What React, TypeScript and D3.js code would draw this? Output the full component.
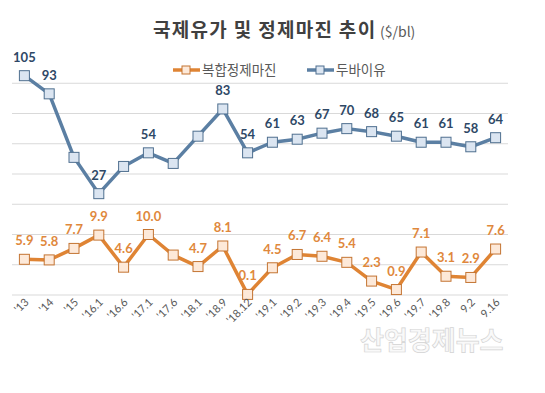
import React from "react";
import * as d3 from "d3";

const categories = ["'13", "'14", "'15", "'16.1", "'16.6", "'17.1", "'17.6", "'18.1", "'18.9", "'18.12", "'19.1", "'19.2", "'19.3", "'19.4", "'19.5", "'19.6", "'19.7", "'19.8", "9.2", "9.16"];
const dubaiValues = [105, 93, 51, 27, 45, 54, 47, 65, 83, 54, 61, 63, 67, 70, 68, 65, 61, 61, 58, 64];
const dubaiLabels = ["105", "93", "", "27", "", "54", "", "", "83", "54", "61", "63", "67", "70", "68", "65", "61", "61", "58", "64"];
const marginValues = [5.9, 5.8, 7.7, 9.9, 4.6, 10.0, 6.6, 4.7, 8.1, 0.1, 4.5, 6.7, 6.4, 5.4, 2.3, 0.9, 7.1, 3.1, 2.9, 7.6];
const marginLabels = ["5.9", "5.8", "7.7", "9.9", "4.6", "10.0", "", "4.7", "8.1", "0.1", "4.5", "6.7", "6.4", "5.4", "2.3", "0.9", "7.1", "3.1", "2.9", "7.6"];
const gridTicks = [-40, -20, 0, 20, 40, 60, 80, 100];

const W = 545, H = 393;
const FONT = "Lato, 'Noto Sans CJK KR', sans-serif";
const KFONT = "'Noto Sans CJK KR', 'Noto Sans', sans-serif";

export default function App() {
  const x = d3.scaleBand<string>().domain(categories).range([12, 508]);
  const cx = (c: string) => (x(c) as number) + x.bandwidth() / 2;
  const yDubai = d3.scaleLinear().domain([-40, 120]).range([295, 53]);
  const yMargin = d3.scaleLinear().domain([0, 40]).range([295, 53]);

  const lineDubai = d3.line<number>().x((_, i) => cx(categories[i])).y((d) => yDubai(d));
  const lineMargin = d3.line<number>().x((_, i) => cx(categories[i])).y((d) => yMargin(d));

  const blue = "#5b7fa3";
  const blueFill = "#dbe5f1";
  const blueStroke = "#4f6f8f";
  const blueText = "#2e4866";
  const orange = "#df8434";
  const orangeFill = "#fde9d9";
  const orangeStroke = "#c47432";
  const orangeText = "#e0883c";
  const ms = 10;

  return (
    <svg width={W} height={H} style={{ position: "absolute", left: 0, top: 0, background: "#fff" }}>
      {/* title */}
      <text x={153} y={37} fontFamily={KFONT} fontWeight={700} fontSize={19} letterSpacing={1.3} fill="#404040">
        국제유가 및 정제마진 추이
      </text>
      <text x={380} y={37} fontFamily={KFONT} fontSize={14} fill="#595959">($/bl)</text>

      {/* gridlines */}
      {gridTicks.map((t) => (
        <line key={t} x1={12} x2={508} y1={yDubai(t)} y2={yDubai(t)} stroke="#d9d9d9" strokeWidth={1} />
      ))}

      {/* legend */}
      <g>
        <line x1={173} x2={200} y1={70} y2={70} stroke={orange} strokeWidth={3.5} />
        <rect x={182} y={66} width={8} height={8} fill={orangeFill} stroke={orangeStroke} strokeWidth={1} />
        <text x={202} y={75} fontFamily={KFONT} fontSize={13.5} fill="#595959">복합정제마진</text>
        <line x1={307} x2={334} y1={70} y2={70} stroke={blue} strokeWidth={3.5} />
        <rect x={316} y={66} width={8} height={8} fill={blueFill} stroke={blueStroke} strokeWidth={1} />
        <text x={336} y={75} fontFamily={KFONT} fontSize={13.5} fill="#595959">두바이유</text>
      </g>

      {/* Dubai series */}
      <path d={lineDubai(dubaiValues) as string} fill="none" stroke={blue} strokeWidth={3.5} strokeLinejoin="round" />
      {dubaiValues.map((v, i) => (
        <rect key={"dm" + i} x={cx(categories[i]) - ms / 2} y={yDubai(v) - ms / 2} width={ms} height={ms} fill={blueFill} stroke={blueStroke} strokeWidth={1} />
      ))}
      {dubaiLabels.map((l, i) => l ? (
        <text key={"dl" + i} x={cx(categories[i])} y={yDubai(dubaiValues[i]) - 14} textAnchor="middle" fontFamily={FONT} fontWeight={700} fontSize={13} fill={blueText}>{l}</text>
      ) : null)}

      {/* Margin series */}
      <path d={lineMargin(marginValues) as string} fill="none" stroke={orange} strokeWidth={3.5} strokeLinejoin="round" />
      {marginValues.map((v, i) => (
        <rect key={"mm" + i} x={cx(categories[i]) - ms / 2} y={yMargin(v) - ms / 2} width={ms} height={ms} fill={orangeFill} stroke={orangeStroke} strokeWidth={1} />
      ))}
      {marginLabels.map((l, i) => l ? (
        <text key={"ml" + i} x={cx(categories[i])} y={yMargin(marginValues[i]) - 14} textAnchor="middle" fontFamily={FONT} fontWeight={700} fontSize={13} fill={orangeText}>{l}</text>
      ) : null)}

      {/* x labels */}
      {categories.map((c) => (
        <text key={"x" + c} x={0} y={0} transform={`translate(${cx(c) + 5},${303}) rotate(-45)`} textAnchor="end" fontFamily={FONT} fontSize={11} fill="#595959">{c}</text>
      ))}

      {/* watermark */}
      <text x={360} y={350} fontFamily={KFONT} fontWeight={700} fontSize={26} fill="#f9f9f9" stroke="#d4d4d4" strokeWidth={0.7}>산업경제뉴스</text>
    </svg>
  );
}
